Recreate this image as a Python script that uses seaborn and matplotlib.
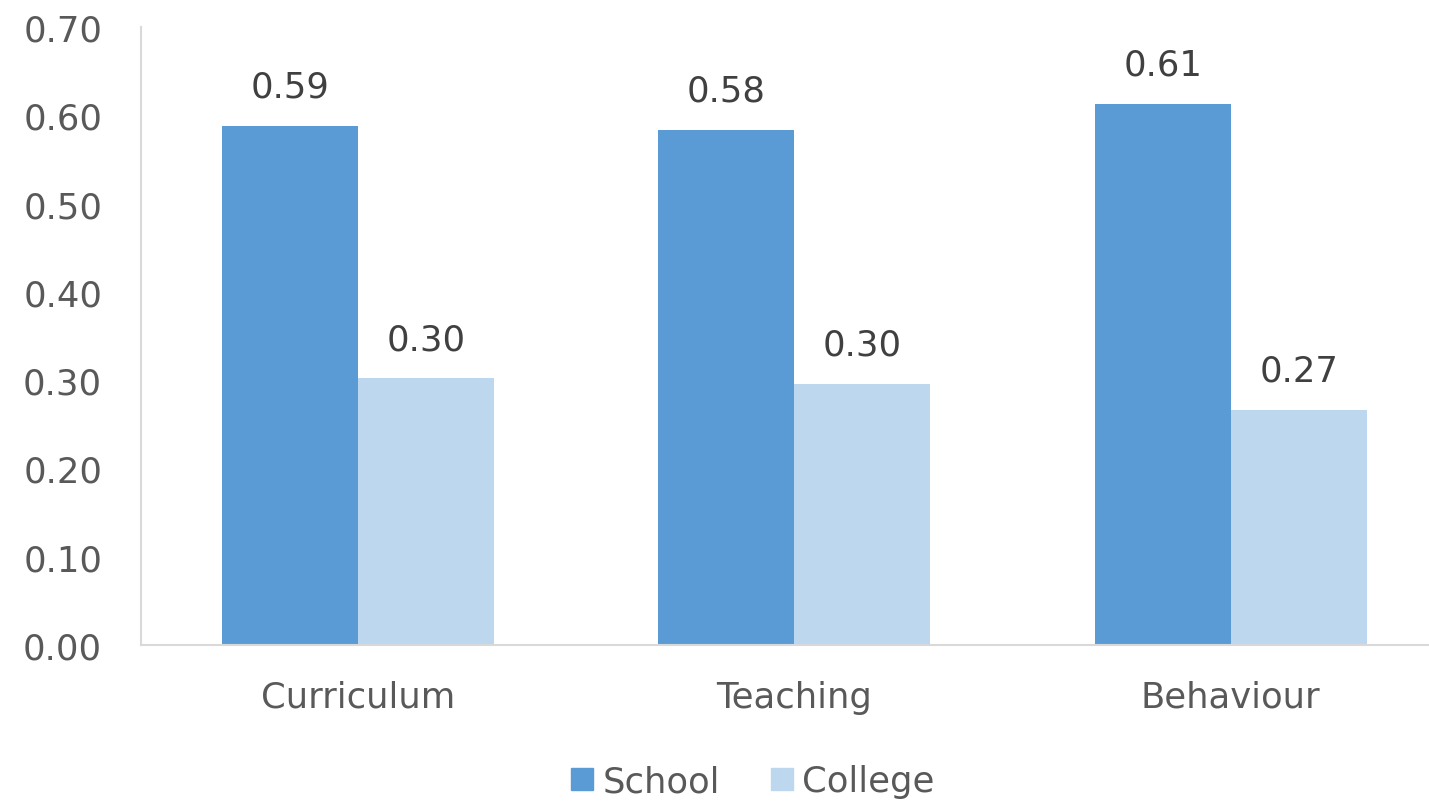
import pandas as pd
import matplotlib
matplotlib.use("Agg")
import matplotlib.pyplot as plt
import seaborn as sns

categories = ["Curriculum", "Teaching", "Behaviour"]
school = [0.588, 0.584, 0.613]
college = [0.302, 0.296, 0.266]
series_names = ["School", "College"]
colors = ["#5B9BD5", "#BDD7EE"]

df = pd.DataFrame({
    "category": categories * 2,
    "value": school + college,
    "group": [series_names[0]] * 3 + [series_names[1]] * 3,
})

sns.set_style("white")
plt.rcParams['font.family'] = ['DejaVu Sans']

fig = plt.figure(figsize=(14.29, 8.04), dpi=100)
ax = fig.add_axes([0.0987, 0.1965, 0.9003, 0.7685])

sns.barplot(data=df, x="category", y="value", hue="group", palette=colors,
            width=0.623, gap=0, saturation=1, linewidth=0, ax=ax, legend=True)

for cont in ax.containers:
    ax.bar_label(cont, fmt='%.2f', padding=16, fontsize=25.5, color="#404040")

ax.set_ylim(0, 0.70)
ax.set_xlim(-0.497, 2.451)
ax.set_yticks([i / 10 for i in range(8)])
ax.set_yticklabels([f"{i / 10:.2f}" for i in range(8)])
ax.tick_params(axis='y', length=0, pad=28, labelsize=25.5, labelcolor="#595959")
ax.tick_params(axis='x', length=0, pad=25, labelsize=25.5, labelcolor="#595959")
ax.set_xlabel("")
ax.set_ylabel("")

for s in ["top", "right"]:
    ax.spines[s].set_visible(False)
for s in ["left", "bottom"]:
    ax.spines[s].set_color("#D9D9D9")
    ax.spines[s].set_linewidth(1.5)

ax.get_legend().remove()
handles = [plt.Rectangle((0, 0), 1, 1, color=c) for c in colors]
fig.legend(handles, series_names, loc="center", bbox_to_anchor=(0.527, 0.027),
           ncol=2, frameon=False, fontsize=25.5, labelcolor="#595959",
           handlelength=0.6, handleheight=0.6, handletextpad=0.28, columnspacing=1.45)

fig.savefig("out.png", dpi=100)
